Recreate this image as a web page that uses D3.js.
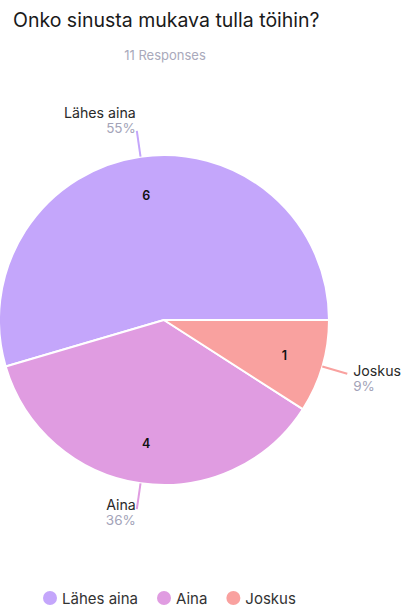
<!DOCTYPE html>
<html>
<head>
<meta charset="utf-8">
<script src="https://cdn.jsdelivr.net/npm/d3@7"></script>
<style>
  html, body { margin: 0; padding: 0; background: #fff; }
  svg { display: block; font-family: "Inter", "Noto Sans", sans-serif; }
</style>
</head>
<body>
<svg id="chart" width="401" height="608"></svg>
<script>
// Survey answers
const categories = ["Lähes aina", "Aina", "Joskus"];
const counts = [6, 4, 1];
const colors = ["#c4a6fb", "#e09ce1", "#f9a19f"];
const title = "Onko sinusta mukava tulla töihin?";

const total = d3.sum(counts);
const data = categories.map((c, i) => ({ name: c, value: counts[i], color: colors[i] }));

const svg = d3.select("#chart");
const cx = 164, cy = 320, r = 165;

svg.append("text")
  .attr("x", 13).attr("y", 27)
  .attr("font-size", 19.5)
  .attr("fill", "#1a1a1a")
  .text(title);

svg.append("text")
  .attr("x", cx + 1).attr("y", 60)
  .attr("text-anchor", "middle")
  .attr("font-size", 13)
  .attr("fill", "#a9a9bb")
  .text(total + " Responses");

// Slices run counter-clockwise, starting at 3 o'clock
const pie = d3.pie().value(d => d.value).sort(null)
  .startAngle(Math.PI / 2).endAngle(Math.PI / 2 - 2 * Math.PI);
const arcs = pie(data);

const arc = d3.arc().innerRadius(0).outerRadius(r);
const g = svg.append("g").attr("transform", `translate(${cx},${cy})`);

g.selectAll("path.slice").data(arcs).join("path")
  .attr("class", "slice")
  .attr("d", arc)
  .attr("fill", d => d.data.color)
  .attr("stroke", "#fff")
  .attr("stroke-width", 2)
  .attr("stroke-linejoin", "round");

// Counts inside the slices
const inner = d3.arc().innerRadius(r * 0.76).outerRadius(r * 0.76);
g.selectAll("text.count").data(arcs).join("text")
  .attr("class", "count")
  .attr("transform", d => `translate(${inner.centroid(d)})`)
  .attr("text-anchor", "middle")
  .attr("dy", "0.35em")
  .attr("font-size", 12.5)
  .attr("font-weight", 600)
  .attr("fill", "#111")
  .text(d => d.value);

// Leader lines and outside labels
const pt = (a, rad) => [Math.sin(a) * rad, -Math.cos(a) * rad];
arcs.forEach(d => {
  const mid = (d.startAngle + d.endAngle) / 2;
  const p0 = pt(mid, r);
  const p1 = pt(mid, r + 26);
  g.append("line")
    .attr("x1", p0[0]).attr("y1", p0[1])
    .attr("x2", p1[0]).attr("y2", p1[1])
    .attr("stroke", d.data.color)
    .attr("stroke-width", 2);
  const right = Math.sin(mid) > 0.5;
  const top = Math.cos(mid) > 0;
  const tx = right ? p1[0] + 6 : p1[0] - 1;
  const ty = right ? p1[1] + 2 : (top ? p1[1] - 13 : p1[1] + 1);
  const anchor = right ? "start" : "end";
  const pct = Math.round(d.value / total * 100) + "%";
  g.append("text")
    .attr("x", tx).attr("y", ty)
    .attr("text-anchor", anchor)
    .attr("font-size", 14.2)
    .attr("fill", "#2a2a2a")
    .text(d.data.name);
  g.append("text")
    .attr("x", tx).attr("y", ty + 15)
    .attr("text-anchor", anchor)
    .attr("font-size", 13.5)
    .attr("fill", "#a3a3b8")
    .text(pct);
});

// Legend
const legend = svg.append("g").attr("transform", "translate(0,598)");
let lx = 43;
data.forEach(d => {
  const item = legend.append("g").attr("transform", `translate(${lx},0)`);
  item.append("circle").attr("cx", 7).attr("cy", 0).attr("r", 7).attr("fill", d.color);
  const t = item.append("text")
    .attr("x", 19).attr("y", 5.5)
    .attr("font-size", 15)
    .attr("fill", "#333")
    .text(d.name);
  lx += 19 + t.node().getComputedTextLength() + 19;
});
</script>
</body>
</html>
